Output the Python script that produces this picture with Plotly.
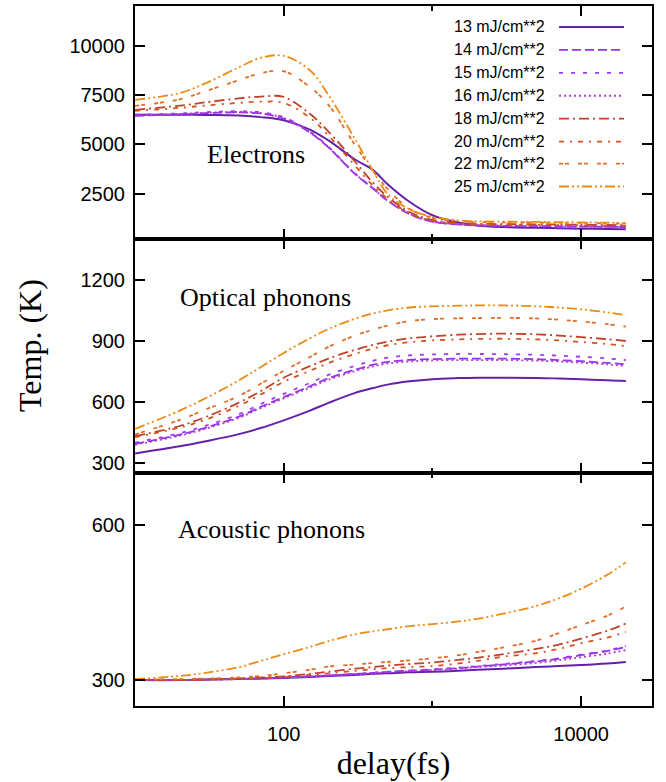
import plotly.graph_objects as go
from plotly.subplots import make_subplots

# ---------------- data ----------------
delay = [10, 20, 30, 50, 70, 100, 150, 200, 300, 400, 500, 700, 1000, 1500, 2000,
         3000, 5000, 7000, 10000, 15000, 20000]

series_names = ["13 mJ/cm**2", "14 mJ/cm**2", "15 mJ/cm**2", "16 mJ/cm**2",
                "18 mJ/cm**2", "20 mJ/cm**2", "22 mJ/cm**2", "25 mJ/cm**2"]

electrons_13 = [6500, 6500, 6490, 6460, 6380, 6220, 5750, 5200, 4250, 3700, 2980, 2100, 1420, 1050, 900, 820, 780, 760, 740, 720, 710]
electrons_14 = [6450, 6520, 6580, 6620, 6560, 6300, 5600, 4850, 3520, 2760, 2150, 1480, 1090, 955, 900, 880, 865, 855, 845, 830, 820]
electrons_15 = [6500, 6570, 6630, 6680, 6630, 6370, 5650, 4880, 3550, 2790, 2170, 1500, 1100, 965, 910, 890, 875, 865, 855, 840, 830]
electrons_16 = [6470, 6540, 6600, 6640, 6590, 6330, 5620, 4860, 3530, 2770, 2160, 1490, 1095, 960, 905, 885, 870, 860, 850, 835, 825]
electrons_18 = [6750, 6960, 7130, 7330, 7420, 7400, 6550, 5650, 4150, 3050, 2350, 1580, 1180, 1040, 990, 970, 960, 950, 940, 925, 910]
electrons_20 = [6700, 6850, 6970, 7100, 7160, 7100, 6350, 5450, 3950, 2900, 2250, 1530, 1150, 1000, 960, 940, 930, 920, 910, 895, 880]
electrons_22 = [6950, 7280, 7700, 8250, 8600, 8700, 7900, 7000, 5000, 3650, 2750, 1750, 1290, 1130, 1080, 1060, 1050, 1040, 1030, 1010, 990]
electrons_25 = [7250, 7600, 8100, 8900, 9380, 9480, 8750, 7500, 5300, 3650, 2500, 1720, 1330, 1160, 1110, 1090, 1080, 1070, 1060, 1040, 1020]

optical_13 = [345, 380, 405, 440, 470, 508, 556, 594, 642, 667, 684, 700, 711, 716, 718, 718, 717, 714, 710, 706, 702]
optical_14 = [392, 437, 472, 526, 574, 622, 676, 715, 757, 782, 796, 806, 810, 812, 812, 812, 809, 805, 799, 791, 784]
optical_15 = [398, 445, 482, 538, 588, 638, 692, 732, 776, 802, 817, 828, 833, 835, 835, 834, 831, 827, 821, 813, 805]
optical_16 = [388, 432, 467, 520, 568, 616, 669, 708, 750, 774, 788, 798, 803, 805, 805, 805, 802, 798, 792, 784, 776]
optical_18 = [430, 480, 525, 595, 652, 718, 775, 812, 855, 880, 896, 912, 922, 930, 933, 935, 932, 926, 918, 908, 899]
optical_20 = [425, 472, 512, 580, 635, 698, 752, 790, 835, 862, 878, 893, 902, 907, 909, 910, 907, 902, 894, 884, 874]
optical_22 = [438, 510, 562, 628, 688, 752, 820, 870, 925, 955, 975, 997, 1007, 1011, 1012, 1013, 1010, 1004, 995, 982, 970]
optical_25 = [466, 556, 618, 705, 770, 840, 912, 958, 1008, 1035, 1050, 1064, 1070, 1073, 1074, 1074, 1070, 1064, 1055, 1040, 1026]

acoustic_13 = [300, 300, 301, 302, 303, 304, 306, 308, 310, 312, 313, 315, 316, 318, 320, 322, 325, 327, 329, 332, 335]
acoustic_14 = [300, 300, 301, 302, 303, 305, 307, 309, 312, 314, 316, 318, 320, 323, 326, 330, 336, 341, 348, 356, 364]
acoustic_15 = [300, 300, 301, 302, 303, 305, 307, 309, 312, 314, 316, 318, 321, 324, 327, 331, 337, 342, 349, 357, 366]
acoustic_16 = [300, 300, 301, 302, 303, 305, 307, 309, 311, 313, 315, 317, 319, 322, 325, 328, 333, 338, 344, 351, 358]
acoustic_18 = [300, 300, 301, 303, 305, 307, 312, 316, 322, 325, 328, 331, 334, 339, 343, 350, 360, 368, 380, 395, 409]
acoustic_20 = [300, 300, 301, 302, 304, 306, 310, 313, 318, 321, 323, 325, 327, 332, 337, 345, 352, 360, 371, 382, 393]
acoustic_22 = [301, 302, 303, 305, 308, 313, 320, 326, 330, 333, 335, 338, 342, 348, 354, 363, 376, 390, 406, 424, 442]
acoustic_25 = [302, 308, 314, 325, 337, 350, 364, 375, 388, 394, 398, 404, 408, 413, 418, 428, 443, 457, 476, 503, 527]

x_tickvals = [100, 10000]
x_ticktext = ["100", "10000"]
y_ticks_electrons = [2500, 5000, 7500, 10000]
y_ticks_optical = [300, 600, 900, 1200]
y_ticks_acoustic = [300, 600]

panel_labels = ["Electrons", "Optical phonons", "Acoustic phonons"]

# ---------------- styles ----------------
colors = ["#6420aa", "#9433f0", "#a03cf0", "#b43cc8", "#c0422a", "#d4521e", "#e06e28", "#eb8c14"]
dashes = ["solid", "9px,4px", "4px,8px", "2px,3px", "10px,4px,2px,4px",
          "5px,6px,2px,6px", "4px,2px,4px,9px", "10px,3px,2px,3px,2px,3px"]

electrons = [electrons_13, electrons_14, electrons_15, electrons_16, electrons_18, electrons_20, electrons_22, electrons_25]
optical = [optical_13, optical_14, optical_15, optical_16, optical_18, optical_20, optical_22, optical_25]
acoustic = [acoustic_13, acoustic_14, acoustic_15, acoustic_16, acoustic_18, acoustic_20, acoustic_22, acoustic_25]

W, H = 666, 782
ML, MR, MT, MB = 135, 14, 4, 76
PW, PH = W - ML - MR, H - MT - MB

def px_x(px):
    return (px - ML) / PW

def px_y(py):
    return (H - MB - py) / PH

fig = make_subplots(rows=3, cols=1, shared_xaxes=True, vertical_spacing=0)

for row, panel in enumerate([electrons, optical, acoustic], start=1):
    for i, vals in enumerate(panel):
        fig.add_trace(go.Scatter(
            x=delay, y=vals, mode="lines", name=series_names[i],
            line=dict(color=colors[i], width=1.8 if i else 2.0, dash=dashes[i],
                      shape="spline", smoothing=1.0),
            showlegend=False), row=row, col=1)

axis_common = dict(showline=True, linecolor="black", linewidth=2, mirror="ticks",
                   ticks="inside", ticklen=10, tickwidth=1.5, tickcolor="black",
                   showgrid=False, zeroline=False,
                   tickfont=dict(family="Liberation Sans", size=20, color="black"))

for r in (1, 2, 3):
    fig.update_xaxes(type="log", range=[1.0, 4.477], tickvals=x_tickvals, ticktext=x_ticktext,
                     minor=dict(tickvals=[1000], ticks="inside", ticklen=5, tickcolor="black", tickwidth=1.5),
                     showticklabels=(r == 3), row=r, col=1, **axis_common)

fig.update_xaxes(title=dict(text="delay(fs)", font=dict(family="Liberation Serif", size=32, color="black"),
                            standoff=8), ticklabelstandoff=9, row=3, col=1)

fig.update_yaxes(range=[200, 12000], tickvals=y_ticks_electrons,
                 ticktext=[str(v) for v in y_ticks_electrons], row=1, col=1, **axis_common)
fig.update_yaxes(range=[250, 1400], tickvals=y_ticks_optical,
                 ticktext=[str(v) for v in y_ticks_optical], row=2, col=1, **axis_common)
fig.update_yaxes(range=[250, 700], tickvals=y_ticks_acoustic,
                 ticktext=[str(v) for v in y_ticks_acoustic], row=3, col=1, **axis_common)
for r in (1, 2, 3):
    fig.update_yaxes(ticklabelstandoff=4, row=r, col=1)

fig.update_layout(yaxis=dict(domain=[2/3, 1.0]), yaxis2=dict(domain=[1/3, 2/3]), yaxis3=dict(domain=[0.0, 1/3]))

annotations = []
label_pos = [(256, 153), (265, 296), (271, 529)]
for text, (ax, ay) in zip(panel_labels, label_pos):
    annotations.append(dict(text=text, x=px_x(ax), y=px_y(ay), xref="paper", yref="paper",
                            xanchor="center", yanchor="middle", showarrow=False,
                            font=dict(family="Liberation Serif", size=26, color="black")))
annotations.append(dict(text="Temp. (K)", x=px_x(30), y=px_y(345), xref="paper", yref="paper",
                        xanchor="center", yanchor="middle", showarrow=False, textangle=-90,
                        font=dict(family="Liberation Serif", size=32, color="black")))

shapes = []
leg_y = [25, 48, 71, 94, 117, 140, 162, 185]
for i, name in enumerate(series_names):
    yy = px_y(leg_y[i])
    annotations.append(dict(text=name, x=px_x(547), y=yy, xref="paper", yref="paper",
                            xanchor="right", yanchor="middle", showarrow=False,
                            font=dict(family="Liberation Sans", size=16, color="black")))
    shapes.append(dict(type="line", xref="paper", yref="paper",
                       x0=px_x(559), x1=px_x(624), y0=yy, y1=yy,
                       line=dict(color=colors[i], width=1.8 if i else 2.0, dash=dashes[i])))

fig.update_layout(width=W, height=H, margin=dict(l=ML, r=MR, t=MT, b=MB),
                  plot_bgcolor="white", paper_bgcolor="white",
                  annotations=annotations, shapes=shapes, showlegend=False)

fig.write_html("out.html", config={"displayModeBar": False},
               post_script="document.body.style.margin='0px';")
